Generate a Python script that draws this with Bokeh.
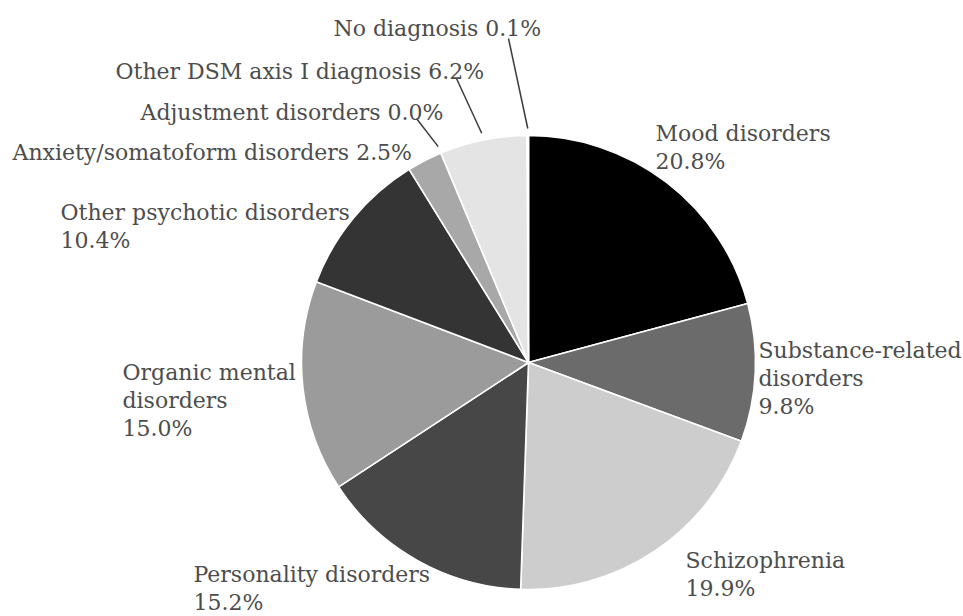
import math

from bokeh.core.properties import value
from bokeh.embed import file_html
from bokeh.models import ColumnDataSource, Range1d
from bokeh.plotting import figure
from bokeh.resources import INLINE

# Diagnosis groups, clockwise from 12 o'clock
categories = [
    "Mood disorders",
    "Substance-related disorders",
    "Schizophrenia",
    "Personality disorders",
    "Organic mental disorders",
    "Other psychotic disorders",
    "Anxiety/somatoform disorders",
    "Adjustment disorders",
    "Other DSM axis I diagnosis",
    "No diagnosis",
]
shares = [20.8, 9.8, 19.9, 15.2, 15.0, 10.4, 2.5, 0.0, 6.2, 0.1]
colors = [
    "#000000", "#6b6b6b", "#cdcdcd", "#474747", "#9b9b9b",
    "#343434", "#a8a8a8", "#bbbbbb", "#e4e4e4", "#f2f2f2",
]

# How each label is broken into lines; the percentage is appended
# on its own line or at the end of the last line
label_lines = [
    ["Mood disorders"],
    ["Substance-related", "disorders"],
    ["Schizophrenia"],
    ["Personality disorders"],
    ["Organic mental", "disorders"],
    ["Other psychotic disorders"],
    ["Anxiety/somatoform disorders"],
    ["Adjustment disorders"],
    ["Other DSM axis I diagnosis"],
    ["No diagnosis"],
]
pct_inline = [False, False, False, False, False, False, True, True, True, True]

# Layout (screen pixels, y measured downward)
W, H = 963, 616
CX, CY, R = 528, 362, 227
LINE_STEP = 28
label_pos = [
    (655, 133), (758, 350), (685, 560), (193, 574), (122, 372),
    (60, 212), (12, 152), (140, 112), (115, 71), (333, 28),
]
leader_end = {7: (416, 118), 8: (456, 78), 9: (508, 38)}
LEADER_R = 234


def sy(y):
    return H - y


total = sum(shares)
starts, ends, mids = [], [], []
cum = 0.0
for s in shares:
    before = cum / total
    cum += s
    after = cum / total
    # anticlockwise wedge from "after" to "before" == clockwise slice
    starts.append(math.pi / 2 - 2 * math.pi * after)
    ends.append(math.pi / 2 - 2 * math.pi * before)
    mids.append(math.pi / 2 - 2 * math.pi * (before + after) / 2)

p = figure(
    width=W, height=H,
    x_range=Range1d(0, W), y_range=Range1d(0, H),
    x_axis_type=None, y_axis_type=None,
    toolbar_location=None, output_backend="svg",
    min_border=0, outline_line_color=None,
    background_fill_color="white", border_fill_color="white",
)
p.grid.visible = False

# Zero-size slices would render as a full disc, so only non-empty ones are drawn
keep = [i for i, s in enumerate(shares) if s > 0]
wedges = ColumnDataSource(dict(
    cat=[categories[i] for i in keep],
    start=[starts[i] for i in keep],
    end=[ends[i] for i in keep],
    color=[colors[i] for i in keep],
))
p.wedge(
    x=CX, y=sy(CY), radius=R,
    start_angle="start", end_angle="end",
    fill_color="color", line_color="white", line_width=1.6,
    source=wedges,
)

# Leader lines for the narrow slices at the top
x0, y0, x1, y1 = [], [], [], []
for i, (ex, ey) in leader_end.items():
    a = mids[i]
    x0.append(CX + LEADER_R * math.cos(a))
    y0.append(sy(CY) + LEADER_R * math.sin(a))
    x1.append(ex)
    y1.append(sy(ey))
p.segment(x0=x0, y0=y0, x1=x1, y1=y1, line_color="#3c3c3c", line_width=1.5)

# Labels, one text row per line
tx, ty, tt = [], [], []
for i, lines in enumerate(label_lines):
    pct = f"{shares[i]:.1f}%"
    rows = list(lines)
    if pct_inline[i]:
        rows[-1] = rows[-1] + " " + pct
    else:
        rows.append(pct)
    lx, ly = label_pos[i]
    for k, row in enumerate(rows):
        tx.append(lx)
        ty.append(sy(ly + k * LINE_STEP))
        tt.append(row)

p.text(
    x=tx, y=ty, text=tt,
    text_font=value("DejaVu Serif"), text_font_size="22px",
    text_color="#4d4d4d", text_align="left", text_baseline="alphabetic",
)

open("out.html", "w").write(file_html(p, INLINE))
